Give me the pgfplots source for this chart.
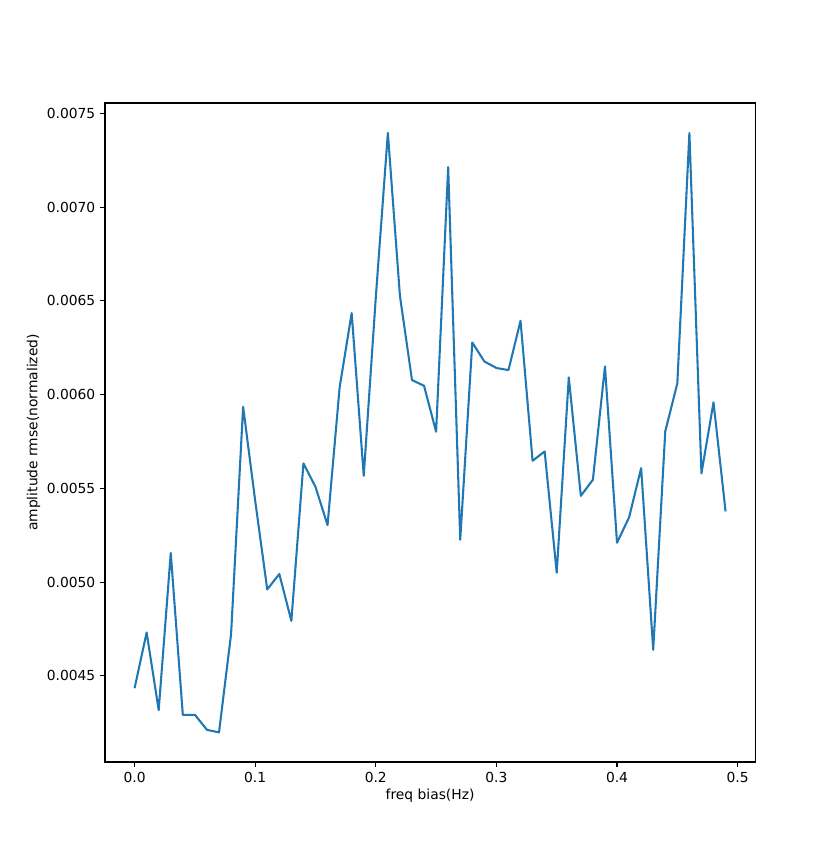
\documentclass[border=0pt]{standalone}
\usepackage{fontspec}
\setmainfont{DejaVu Sans}
\usepackage{pgfplots}
\pgfplotsset{compat=1.18}
\definecolor{mplblue}{HTML}{1F77B4}
\begin{document}
\begin{tikzpicture}
\path[use as bounding box] (-75.9pt,-67.9pt) rectangle (530.5pt,550.7pt);
\begin{axis}[
  at={(0,0)}, anchor=south west,
  scale only axis,
  width=469.8pt, height=476.3pt,
  xmin=-0.0245, xmax=0.5145,
  ymin=0.00404, ymax=0.007556,
  xtick={0,0.1,0.2,0.3,0.4,0.5},
  ytick={0.0045,0.005,0.0055,0.006,0.0065,0.007,0.0075},
  scaled x ticks=false, scaled y ticks=false,
  xticklabel style={/pgf/number format/.cd,fixed,fixed zerofill,precision=1},
  yticklabel style={/pgf/number format/.cd,fixed,fixed zerofill,precision=4},
  /pgf/number format/assume math mode=true,
  tick align=outside,
  xtick pos=bottom, ytick pos=left,
  major tick length=3.5pt,
  every tick/.style={black, line width=0.8pt},
  axis line style={line width=0.8pt},
  tick label style={font=\fontsize{10}{12}\selectfont},
  label style={font=\fontsize{10}{12}\selectfont},
  xlabel={freq bias(Hz)},
  ylabel={amplitude rmse(normalized)},
  xlabel style={yshift=2pt},
  ylabel style={yshift=-2pt},
]
\addplot[mplblue, line width=1.5pt, line join=round] table {
x y
0.00 0.004434
0.01 0.004731
0.02 0.004317
0.03 0.005155
0.04 0.004292
0.05 0.004292
0.06 0.004212
0.07 0.004198
0.08 0.004722
0.09 0.005935
0.10 0.005434
0.11 0.004961
0.12 0.005043
0.13 0.004793
0.14 0.005633
0.15 0.005508
0.16 0.005304
0.17 0.006038
0.18 0.006435
0.19 0.005567
0.20 0.006519
0.21 0.007396
0.22 0.006528
0.23 0.006078
0.24 0.006047
0.25 0.005802
0.26 0.007214
0.27 0.005226
0.28 0.006278
0.29 0.006177
0.30 0.006142
0.31 0.006131
0.32 0.006394
0.33 0.005647
0.34 0.005697
0.35 0.005050
0.36 0.006092
0.37 0.005460
0.38 0.005546
0.39 0.006150
0.40 0.005210
0.41 0.005345
0.42 0.005608
0.43 0.004639
0.44 0.005804
0.45 0.006060
0.46 0.007396
0.47 0.005580
0.48 0.005959
0.49 0.005377
};
\end{axis}
\end{tikzpicture}
\end{document}
